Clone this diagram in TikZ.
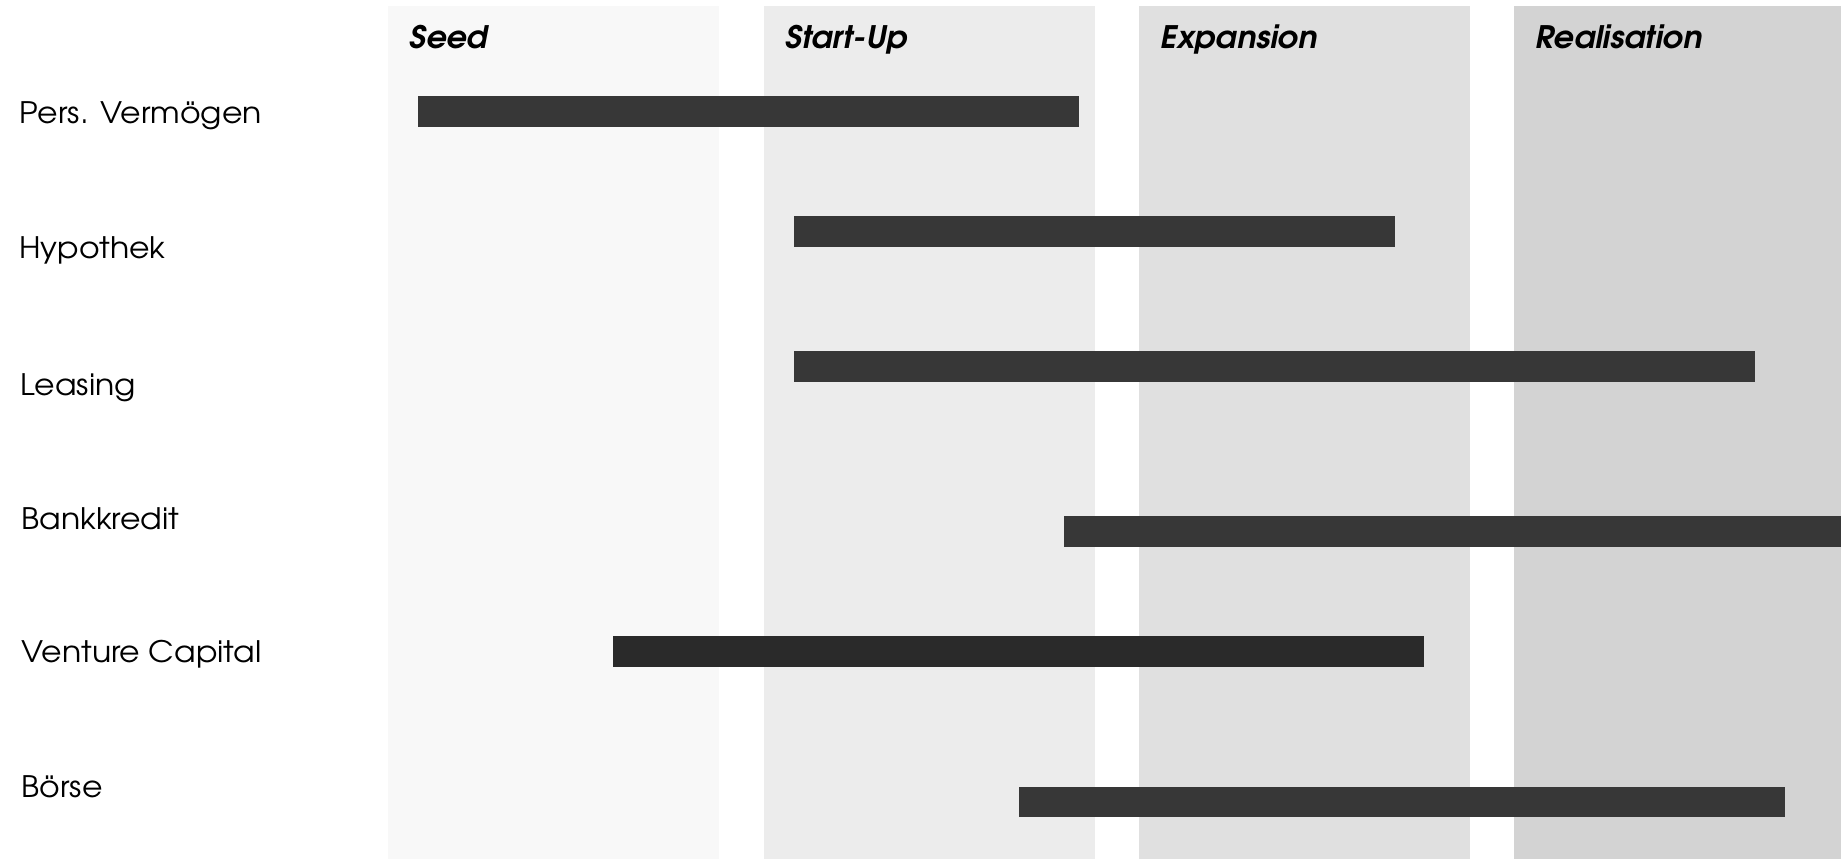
\documentclass[tikz,border=0pt]{standalone}
\usepackage{fontspec}
\setmainfont{TeX Gyre Adventor}
\newfontfamily\rowfont[FakeStretch=1.065]{TeX Gyre Adventor}
\newfontfamily\phasefont[FakeStretch=1.03]{TeX Gyre Adventor}
\definecolor{seedc}{HTML}{F8F8F8}
\definecolor{startc}{HTML}{ECECEC}
\definecolor{expc}{HTML}{E0E0E0}
\definecolor{realc}{HTML}{D3D3D3}
\definecolor{barc}{HTML}{373737}
\definecolor{barvc}{HTML}{2A2A2A}
\begin{document}
\begin{tikzpicture}[x=0.5pt,y=-0.5pt,
  phase/.style={anchor=base west,inner sep=0pt,font=\phasefont\fontsize{15.5}{18}\selectfont\bfseries\itshape},
  rowlabel/.style={anchor=base west,inner sep=0pt,font=\rowfont\fontsize{14.8}{18}\selectfont},
  bar/.style={fill=barc}]
\useasboundingbox (0,0) rectangle (1841,859);
% phase columns
\fill[seedc] (388,6) rectangle (719,859);
\fill[startc] (764,6) rectangle (1095,859);
\fill[expc] (1139,6) rectangle (1470,859);
\fill[realc] (1514,6) rectangle (1841,859);
\node[phase] (seed) at (409,48) {Seed};
\node[phase] (startup) at (785,48) {Start-Up};
\node[phase] (expansion) at (1160,48) {Expansion};
\node[phase] (realisation) at (1535,48) {Realisation};
% row labels
\node[rowlabel] (l1) at (19,123.3) {Pers. Vermögen};
\node[rowlabel] (l2) at (19,258.3) {Hypothek};
\node[rowlabel] (l3) at (20,395.7) {Leasing};
\node[rowlabel] (l4) at (21,529) {Bankkredit};
\node[rowlabel] (l5) at (21,662.3) {Venture Capital};
\node[rowlabel] (l6) at (21,797.3) {Börse};
% bars
\fill[bar] (418,96) rectangle (1079,126.7);
\fill[bar] (794,216) rectangle (1395,246.7);
\fill[bar] (794,351) rectangle (1755,381.7);
\fill[bar] (1064,516) rectangle (1841,546.7);
\fill[bar,fill=barvc] (613,636) rectangle (1424,666.7);
\fill[bar] (1019,787) rectangle (1785,816.7);
\end{tikzpicture}
\end{document}
